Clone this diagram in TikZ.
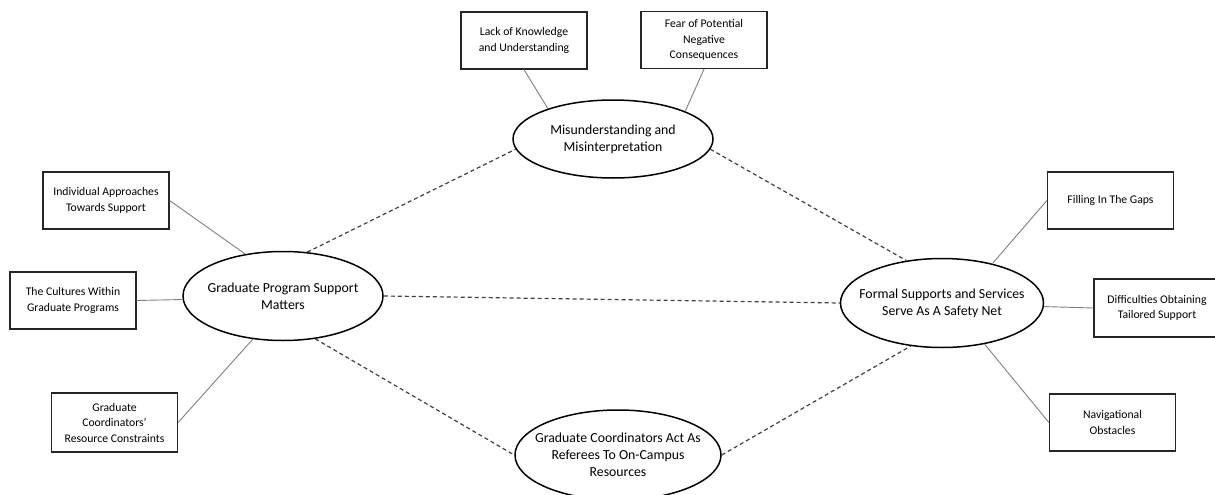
\documentclass[tikz,border=0pt]{standalone}
\usepackage{fontspec}
\setmainfont{Carlito}
\usetikzlibrary{shapes.geometric}
\tikzset{
  theme/.style={ellipse, draw=black, line width=1.5pt, inner ysep=0pt, inner xsep=-14pt, align=center,
    font=\fontsize{13.8}{17}\selectfont},
  sub/.style={rectangle, draw=black!85, line width=1.2pt, inner sep=0pt, align=center,
    minimum width=126pt, minimum height=57pt, font=\fontsize{11.7}{15.5}\selectfont},
  link/.style={draw=black!50, line width=0.9pt},
  rel/.style={draw=black!75, line width=1.2pt, dash pattern=on 4pt off 3pt}
}
\begin{document}
\begin{tikzpicture}[x=1pt,y=-1pt]
\useasboundingbox[fill=white] (0,0) rectangle (1215,495);
% themes
\node[theme, minimum width=200pt, minimum height=78pt] (T) at (613,139) {Misunderstanding and\\Misinterpretation};
\node[theme, minimum width=200pt, minimum height=89pt] (L) at (283,296) {Graduate Program Support\\Matters};
\node[theme, minimum width=203pt, minimum height=89pt] (R) at (942,303) {Formal Supports and Services\\Serve As A Safety Net};
\node[theme, minimum width=206pt, minimum height=90pt] (B) at (618,455) {Graduate Coordinators Act As\\Referees To On-Campus\\Resources};
% subthemes
\node[sub] (lack) at (524,40.5) {Lack of Knowledge\\and Understanding};
\node[sub] (fear) at (704,40) {Fear of Potential\\Negative\\Consequences};
\node[sub] (indiv) at (106,200.5) {Individual Approaches\\Towards Support};
\node[sub] (cult) at (73,300.5) {The Cultures Within\\Graduate Programs};
\node[sub, minimum height=59pt] (coord) at (114.5,422.5) {Graduate\\Coordinators'\\Resource Constraints};
\node[sub] (fill) at (1110.5,200.5) {Filling In The Gaps};
\node[sub, minimum height=58pt] (diff) at (1157,308) {Difficulties Obtaining\\Tailored Support};
\node[sub] (nav) at (1112.5,422.5) {Navigational\\Obstacles};
% solid links
\draw[link] (lack.south) -- (T.155.6);
\draw[link] (fear.south) -- (T.21.4);
\draw[link] (indiv.east) -- (L.132.9);
\draw[link] (cult.east) -- (L.182.5);
\draw[link] (coord.east) -- (L.235.2);
\draw[link] (fill.west) -- (R.38.7);
\draw[link] (diff.west) -- (R.-2.5);
\draw[link] (nav.west) -- (R.-44.3);
% dashed relations
\draw[rel] (L.61.4) -- (T.186.2);
\draw[rel] (L.east) -- (R.west);
\draw[rel] (L.-53.5) -- (B.west);
\draw[rel] (T.-6.3) -- (R.130.7);
\draw[rel] (B.east) -- (R.234);
\end{tikzpicture}
\end{document}
